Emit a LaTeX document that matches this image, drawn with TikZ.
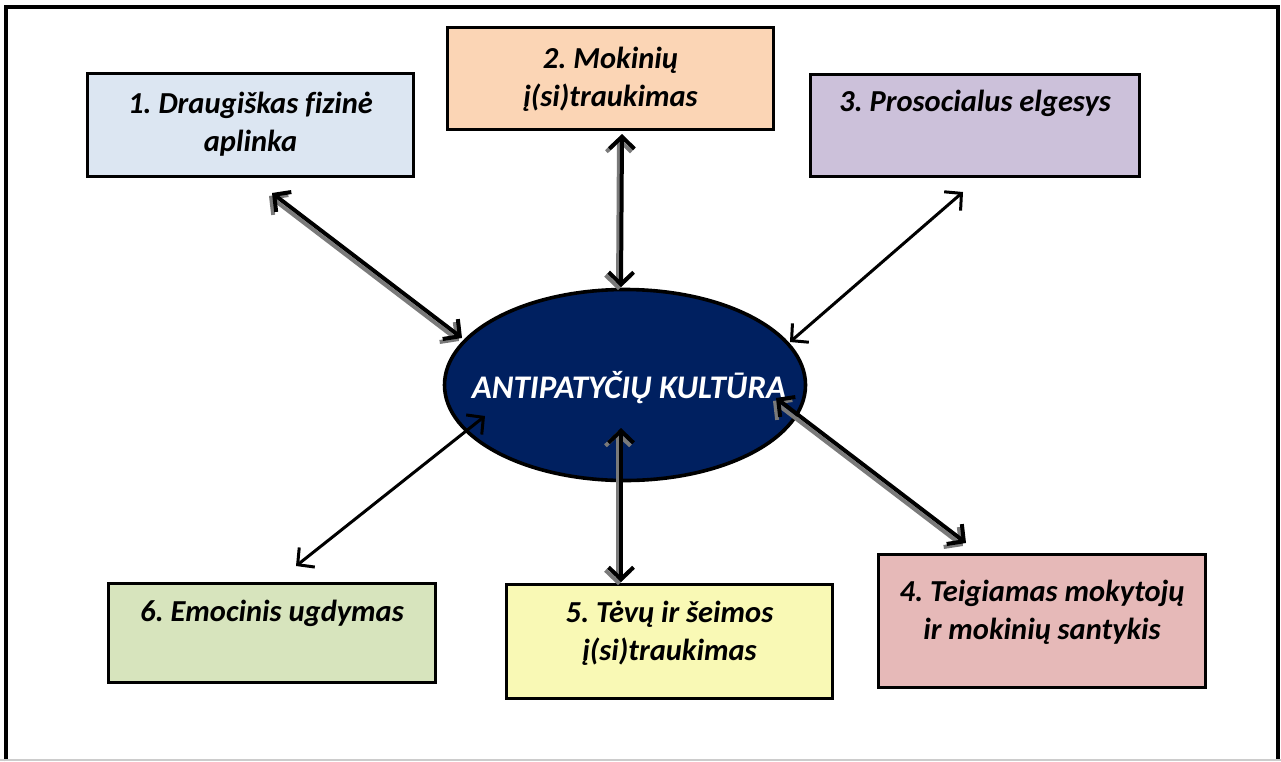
\documentclass[tikz,border=0pt]{standalone}
\usepackage{fontspec}
\setmainfont{Carlito}[Ligatures={NoCommon}]
\usetikzlibrary{arrows.meta,shapes.geometric}
\definecolor{c1}{HTML}{DCE6F2}
\definecolor{c2}{HTML}{FBD5B5}
\definecolor{c3}{HTML}{CCC1DA}
\definecolor{c4}{HTML}{E6B9B8}
\definecolor{c5}{HTML}{F9F9B5}
\definecolor{c6}{HTML}{D7E4BD}
\definecolor{navy}{HTML}{002060}
\definecolor{shade}{HTML}{7A7A7A}
\begin{document}
\frenchspacing
\begin{tikzpicture}[x=1pt,y=-1pt,
  box/.style={draw=black, line width=3.8pt, inner sep=0pt},
  lbl/.style={font=\fontsize{30.5}{38}\selectfont\bfseries\itshape, align=center, anchor=north, inner sep=0pt},
  tips/.style={{Straight Barb[length=12pt,width=25pt]}-{Straight Barb[length=12pt,width=25pt]}},
  con/.style={tips, line width=4pt, draw=black},
  thin con/.style={tips, line width=3pt, draw=black},
  shadow/.style={tips, line width=4pt, draw=shade, transform canvas={shift={(-3pt,-3pt)}}}
]
\useasboundingbox (0,0) rectangle (1281,761);
% frame
\draw[line width=4.5pt] (6,761) -- (6,7) -- (1278,7) -- (1278,761);
\draw[line width=1.5pt, draw=black!20] (0,760) -- (1281,760);

% boxes
\node[box, fill=c1, minimum width=326pt, minimum height=103pt] (b1) at (250.5,125) {};
\node[box, fill=c2, minimum width=326pt, minimum height=102pt] (b2) at (610.5,78.5) {};
\node[box, fill=c3, minimum width=329pt, minimum height=102pt] (b3) at (975,125.5) {};
\node[box, fill=c4, minimum width=327pt, minimum height=133pt] (b4) at (1042,621) {};
\node[box, fill=c5, minimum width=326pt, minimum height=114pt] (b5) at (669.5,641.5) {};
\node[box, fill=c6, minimum width=327pt, minimum height=99pt] (b6) at (272,633) {};

\node[lbl] (t1) at (250.5,87) {\strut 1. Draugiškas fizinė\\aplinka};
\node[lbl] (t2) at (610.5,42) {\strut 2. Mokinių\\į(si)traukimas};
\node[lbl] (t3) at (975,85) {\strut 3. Prosocialus elgesys};
\node[lbl] (t4) at (1042,575) {\strut 4. Teigiamas mokytojų\\ir mokinių santykis};
\node[lbl] (t5) at (669.5,596) {\strut 5. Tėvų ir šeimos\\į(si)traukimas};
\node[lbl] (t6) at (272,595) {\strut 6. Emocinis ugdymas};

% centre
\node[ellipse, draw=black, line width=3.6pt, fill=navy, minimum width=361pt, minimum height=191pt, inner sep=0pt] (c) at (625,385) {};
\node[font=\fontsize{33}{40}\selectfont\bfseries\itshape, text=white, anchor=base, inner sep=0pt] (ct) at (629,398) {ANTIPATYČIŲ KULTŪRA};

% arrow ends
\coordinate (a1o) at (272,193);  \coordinate (a1i) at (462,338);
\coordinate (a2o) at (622,134);  \coordinate (a2i) at (621,287);
\coordinate (a3o) at (963,192);  \coordinate (a3i) at (790,342);
\coordinate (a4i) at (776,398);  \coordinate (a4o) at (966,543);
\coordinate (a5i) at (621,428);  \coordinate (a5o) at (621,582);
\coordinate (a6i) at (485,416);  \coordinate (a6o) at (296,566);

% shadows
\draw[shadow] (a1o) -- (a1i);
\draw[shadow] (a2o) -- (a2i);
\draw[shadow] (a4i) -- (a4o);
\draw[shadow] (a5i) -- (a5o);
% arrows
\draw[con] (a1o) -- (a1i);
\draw[con] (a2o) -- (a2i);
\draw[thin con] (a3o) -- (a3i);
\draw[con] (a4i) -- (a4o);
\draw[con] (a5i) -- (a5o);
\draw[thin con] (a6i) -- (a6o);
\end{tikzpicture}
\end{document}
